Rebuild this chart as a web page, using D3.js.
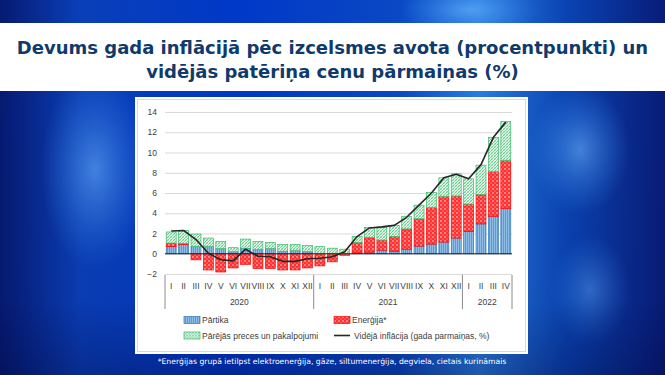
<!DOCTYPE html>
<html>
<head>
<meta charset="utf-8">
<script src="https://cdn.jsdelivr.net/npm/d3@7"></script>
<style>
  body { margin: 0; padding: 0; overflow: hidden; }
  svg { display: block; }
</style>
</head>
<body>
<div id="chart"></div>
<script>
// 1: DATA
const months = ["I","II","III","IV","V","VI","VII","VIII","IX","X","XI","XII",
                "I","II","III","IV","V","VI","VII","VIII","IX","X","XI","XII",
                "I","II","III","IV"];
const years = [
    { label: "2020", count: 12 },
    { label: "2021", count: 12 },
    { label: "2022", count: 4 }
];
const food = [0.7, 0.9, 0.7, 0.7, 0.5, 0.2, 0.55, 0.4, 0.5, 0.25, 0.3, 0.2,
              0.0, 0.0, 0.0, 0.1, 0.15, 0.35, 0.25, 0.45, 0.75, 0.95, 1.15, 1.55,
              2.2, 2.95, 3.7, 4.45];
const energy = [0.35, 0.1, -0.6, -1.6, -1.8, -1.4, -1.05, -1.45, -1.45, -1.6, -1.6, -1.4,
                -1.2, -0.8, -0.15, 1.0, 1.45, 1.0, 1.45, 2.0, 2.7, 3.6, 4.5, 4.15,
                2.7, 2.9, 4.4, 4.75];
const other = [1.1, 1.3, 1.25, 0.85, 0.7, 0.4, 0.9, 0.8, 0.6, 0.65, 0.6, 0.62,
               0.7, 0.55, 0.45, 0.6, 1.0, 1.25, 1.1, 1.25, 1.35, 1.5, 1.85, 2.2,
               2.5, 2.9, 3.4, 3.85];
const inflation = [2.25, 2.3, 1.4, 0.05, -0.6, -0.7, 0.45, -0.25, -0.3, -0.75, -0.75, -0.5,
                   -0.45, -0.3, 0.2, 1.7, 2.55, 2.65, 2.8, 3.6, 4.8, 6.0, 7.5, 7.85,
                   7.4, 8.8, 11.5, 13.0];
const yTicks = [-2, 0, 2, 4, 6, 8, 10, 12, 14];
const titleLines = ["Devums gada inflācijā pēc izcelsmes avota (procentpunkti) un",
                    "vidējās patēriņa cenu pārmaiņas (%)"];
const legendItems = [
    { key: "food", label: "Pārtika" },
    { key: "energy", label: "Enerģija*" },
    { key: "other", label: "Pārējās preces un pakalpojumi" },
    { key: "line", label: "Vidējā inflācija (gada parmaiņas, %)" }
];
const footnote = "*Enerģijas grupā ietilpst elektroenerģija, gāze, siltumenerģija, degviela, cietais kurināmais";

// 2: SVG
const W = 665, H = 375;
const svg = d3.select("#chart").append("svg")
    .attr("width", W)
    .attr("height", H);

const defs = svg.append("defs");

// background gradients
const bg = defs.append("linearGradient").attr("id", "bg").attr("x1", 0).attr("x2", 1).attr("y1", 0).attr("y2", 0);
[["0%", "#061a72"], ["12%", "#0a3fb8"], ["35%", "#0038c8"], ["60%", "#0a48c4"],
 ["72%", "#2a7ee0"], ["85%", "#0a44b4"], ["100%", "#081c78"]]
    .forEach(s => bg.append("stop").attr("offset", s[0]).attr("stop-color", s[1]));

const vshade = defs.append("linearGradient").attr("id", "vshade").attr("x1", 0).attr("x2", 0).attr("y1", 0).attr("y2", 1);
vshade.append("stop").attr("offset", "0%").attr("stop-color", "#000030").attr("stop-opacity", 0);
vshade.append("stop").attr("offset", "80%").attr("stop-color", "#000030").attr("stop-opacity", 0.05);
vshade.append("stop").attr("offset", "100%").attr("stop-color", "#000030").attr("stop-opacity", 0.3);

const glow = defs.append("radialGradient").attr("id", "glow");
glow.append("stop").attr("offset", "0%").attr("stop-color", "#6cb4ff").attr("stop-opacity", 0.6);
glow.append("stop").attr("offset", "100%").attr("stop-color", "#3a8ef0").attr("stop-opacity", 0);

svg.append("rect").attr("width", W).attr("height", H).attr("fill", "url(#bg)");
svg.append("ellipse").attr("cx", 95).attr("cy", 170).attr("rx", 55).attr("ry", 100).attr("fill", "url(#glow)");
svg.append("ellipse").attr("cx", 580).attr("cy", 150).attr("rx", 50).attr("ry", 65).attr("fill", "url(#glow)");
svg.append("ellipse").attr("cx", 590).attr("cy", 290).attr("rx", 40).attr("ry", 55).attr("fill", "url(#glow)").attr("opacity", 0.7);
svg.append("ellipse").attr("cx", 470).attr("cy", 10).attr("rx", 70).attr("ry", 25).attr("fill", "url(#glow)");
svg.append("rect").attr("width", W).attr("height", H).attr("fill", "url(#vshade)");

// fill patterns
const pFood = defs.append("pattern").attr("id", "pFood").attr("patternUnits", "userSpaceOnUse")
    .attr("width", 2).attr("height", 4);
pFood.append("rect").attr("width", 2).attr("height", 4).attr("fill", "#5b9bd5");
pFood.append("rect").attr("width", 1).attr("height", 4).attr("fill", "#8fbde6");

const pEnergy = defs.append("pattern").attr("id", "pEnergy").attr("patternUnits", "userSpaceOnUse")
    .attr("width", 4).attr("height", 4);
pEnergy.append("rect").attr("width", 4).attr("height", 4).attr("fill", "#ff3030");
pEnergy.append("circle").attr("cx", 1).attr("cy", 1).attr("r", 0.75).attr("fill", "#ffffff");
pEnergy.append("circle").attr("cx", 3).attr("cy", 3).attr("r", 0.6).attr("fill", "#ffd0d0");

const pOther = defs.append("pattern").attr("id", "pOther").attr("patternUnits", "userSpaceOnUse")
    .attr("width", 3).attr("height", 3);
pOther.append("rect").attr("width", 3).attr("height", 3).attr("fill", "#e4f6ea");
pOther.append("path").attr("d", "M0,3 L3,0 M-1,1 L1,-1 M2,4 L4,2").attr("stroke", "#4cc27a").attr("stroke-width", 0.8);
pOther.append("path").attr("d", "M0,0 L3,3").attr("stroke", "#8ad8a6").attr("stroke-width", 0.5);

const styles = {
    food: { fill: "url(#pFood)", stroke: "#2e75b6" },
    energy: { fill: "url(#pEnergy)", stroke: "#ff0000" },
    other: { fill: "url(#pOther)", stroke: "#3cba6a" }
};

// title band
svg.append("rect").attr("x", 0).attr("y", 23).attr("width", W).attr("height", 68).attr("fill", "#ffffff");
svg.append("g").selectAll("text")
    .data(titleLines)
    .enter().append("text")
    .attr("x", W / 2)
    .attr("y", (d, i) => 53.5 + i * 24.5)
    .attr("text-anchor", "middle")
    .attr("font-family", "DejaVu Sans, Verdana, sans-serif")
    .attr("font-weight", "bold")
    .attr("font-size", 18)
    .attr("fill", "#0f3a6b")
    .text(d => d);

// chart box
svg.append("rect").attr("x", 135).attr("y", 97).attr("width", 393).attr("height", 257).attr("fill", "#ffffff");
svg.append("rect").attr("x", 137.5).attr("y", 99.5).attr("width", 388).attr("height", 252)
    .attr("fill", "none").attr("stroke", "#d9d9d9").attr("stroke-width", 1);

// footnote
svg.append("text")
    .attr("x", 332).attr("y", 363.5)
    .attr("text-anchor", "middle")
    .attr("font-family", "DejaVu Sans, Verdana, sans-serif")
    .attr("font-size", 7.7)
    .attr("fill", "#ffffff")
    .text(footnote);

// 3: SCALES
const plotLeft = 165, plotRight = 512;
const x = d3.scaleBand()
    .domain(d3.range(months.length))
    .range([plotLeft, plotRight])
    .paddingInner(0.2)
    .paddingOuter(0.1);

const y = d3.scaleLinear()
    .domain([-2, 14])
    .range([274, 112]);

const g = svg.append("g");

// gridlines + y labels
const yAxis = g.append("g")
    .attr("transform", `translate(${plotLeft},0)`)
    .call(d3.axisLeft(y).tickValues(yTicks).tickSize(-(plotRight - plotLeft)).tickPadding(8));
yAxis.select(".domain").remove();
yAxis.selectAll(".tick line").attr("stroke", "#d9d9d9").attr("stroke-width", 1);
yAxis.selectAll(".tick text")
    .attr("font-family", "Liberation Sans, Arial, sans-serif")
    .attr("font-size", 8.5)
    .attr("fill", "#404040");

// 4: STACKED BARS
const rows = months.map((m, i) => ({ i, food: food[i], energy: energy[i], other: other[i] }));
function segments(d) {
    // positive values stack up from 0, negative ones down from 0
    let pos = 0, neg = 0;
    const out = [];
    ["food", "energy", "other"].forEach(k => {
        const v = d[k];
        if (v === 0) return;
        if (v > 0) { out.push({ k, i: d.i, y0: pos, y1: pos + v }); pos += v; }
        else { out.push({ k, i: d.i, y0: neg + v, y1: neg }); neg += v; }
    });
    return out;
}
const segs = rows.flatMap(segments);

g.append("g").selectAll("rect")
    .data(segs)
    .enter().append("rect")
    .attr("x", d => x(d.i))
    .attr("width", x.bandwidth())
    .attr("y", d => y(d.y1))
    .attr("height", d => Math.max(0.5, y(d.y0) - y(d.y1)))
    .attr("fill", d => styles[d.k].fill)
    .attr("stroke", d => styles[d.k].stroke)
    .attr("stroke-width", 0.7);

// zero line
g.append("line")
    .attr("x1", plotLeft).attr("x2", plotRight)
    .attr("y1", y(0)).attr("y2", y(0))
    .attr("stroke", "#262626").attr("stroke-width", 1);

// inflation line
const line = d3.line()
    .x((d, i) => x(i) + x.bandwidth() / 2)
    .y(d => y(d));
g.append("path")
    .datum(inflation)
    .attr("fill", "none")
    .attr("stroke", "#262626")
    .attr("stroke-width", 1.6)
    .attr("stroke-linejoin", "round")
    .attr("d", line);

// 5: CATEGORY AXIS (months + years)
g.append("g").selectAll("text")
    .data(months)
    .enter().append("text")
    .attr("x", (d, i) => x(i) + x.bandwidth() / 2)
    .attr("y", 288.5)
    .attr("text-anchor", "middle")
    .attr("font-family", "Liberation Sans, Arial, sans-serif")
    .attr("font-size", 8.5)
    .attr("fill", "#404040")
    .text(d => d);

let start = 0;
const yearPos = years.map(yr => {
    const p = { label: yr.label, a: start, b: start + yr.count };
    start += yr.count;
    return p;
});
const edge = k => plotLeft + k * (plotRight - plotLeft) / months.length;

g.append("g").selectAll("line")
    .data([0].concat(yearPos.map(p => p.b)))
    .enter().append("line")
    .attr("x1", d => edge(d)).attr("x2", d => edge(d))
    .attr("y1", 275).attr("y2", 309)
    .attr("stroke", "#8c8c8c").attr("stroke-width", 1);

g.append("g").selectAll("text")
    .data(yearPos)
    .enter().append("text")
    .attr("x", d => (edge(d.a) + edge(d.b)) / 2)
    .attr("y", 304.5)
    .attr("text-anchor", "middle")
    .attr("font-family", "Liberation Sans, Arial, sans-serif")
    .attr("font-size", 8.5)
    .attr("fill", "#404040")
    .text(d => d.label);

// 6: LEGEND
const legendPos = [[184, 320], [334, 320], [184, 335.5], [334, 335.5]];
const legend = g.append("g").selectAll("g")
    .data(legendItems)
    .enter().append("g")
    .attr("transform", (d, i) => `translate(${legendPos[i][0]},${legendPos[i][1]})`);

legend.filter(d => d.key !== "line").append("rect")
    .attr("x", 0).attr("y", -3.5)
    .attr("width", 16).attr("height", 7)
    .attr("fill", d => styles[d.key].fill)
    .attr("stroke", d => styles[d.key].stroke)
    .attr("stroke-width", 0.7);

legend.filter(d => d.key === "line").append("line")
    .attr("x1", 0).attr("x2", 16)
    .attr("stroke", "#262626").attr("stroke-width", 1.6);

legend.append("text")
    .attr("x", d => d.key === "line" ? 20 : 18)
    .attr("y", 3)
    .attr("font-family", "Liberation Sans, Arial, sans-serif")
    .attr("font-size", 8.5)
    .attr("fill", "#404040")
    .text(d => d.label);
</script>
</body>
</html>
